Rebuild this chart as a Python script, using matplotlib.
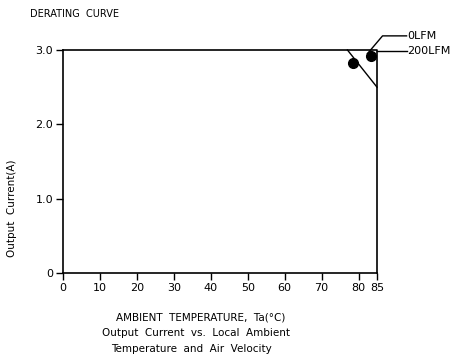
import matplotlib
matplotlib.use("Agg")
import matplotlib.pyplot as plt

# Data
curve_200lfm_x = [0, 85, 85]
curve_200lfm_y = [3.0, 3.0, 0.0]
curve_0lfm_x = [77, 85]
curve_0lfm_y = [3.0, 2.5]
dots_x = [78.6, 83.5]
dots_y = [2.83, 2.92]
x_ticks = [0, 10, 20, 30, 40, 50, 60, 70, 80, 85]
x_ticklabels = ["0", "10", "20", "30", "40", "50", "60", "70", "80", "85"]
y_ticks = [0, 1, 2, 3]
y_ticklabels = ["0", "1.0", "2.0", "3.0"]
labels = ["0LFM", "200LFM"]

W, H = 467, 360
fig = plt.figure(figsize=(W / 100, H / 100), dpi=100)
ax = fig.add_axes([63 / W, 1 - 273 / H, (377 - 63) / W, (273 - 50) / H])
ax.set_xlim(0, 85)
ax.set_ylim(0, 3)
for s in ["top", "right"]:
    ax.spines[s].set_visible(False)
for s in ["left", "bottom"]:
    ax.spines[s].set_linewidth(1.2)

ax.plot(curve_200lfm_x, curve_200lfm_y, color="black", lw=1.2, clip_on=False)
ax.plot(curve_0lfm_x, curve_0lfm_y, color="black", lw=1.0, clip_on=False)
ax.plot(dots_x, dots_y, "o", color="black", ms=7, clip_on=False)

# leader lines
ax.plot([82.4, 86.5, 93.0], [2.95, 3.19, 3.19], color="black", lw=1.0, clip_on=False)
ax.plot([84.9, 86.5, 93.0], [2.99, 2.99, 2.99], color="black", lw=1.0, clip_on=False)
ax.text(93.2, 3.19, labels[0], fontsize=8, va="center", ha="left")
ax.text(93.2, 2.99, labels[1], fontsize=8, va="center", ha="left")

ax.set_xticks(x_ticks)
ax.set_xticklabels(x_ticklabels, fontsize=8)
ax.set_yticks(y_ticks)
ax.set_yticklabels(y_ticklabels, fontsize=8)
ax.tick_params(direction="out", length=5, width=1, pad=2)

fig.text(30 / W, 1 - 14 / H, "DERATING  CURVE", fontsize=7, va="center", ha="left")
fig.text(12 / W, 1 - 208 / H, "Output  Current(A)", fontsize=7.5, rotation=90, va="center", ha="center")
fig.text(201 / W, 1 - 318 / H, "AMBIENT  TEMPERATURE,  Ta(°C)", fontsize=7.5, va="center", ha="center")
fig.text(196 / W, 1 - 333 / H, "Output  Current  vs.  Local  Ambient", fontsize=7.5, va="center", ha="center")
fig.text(191 / W, 1 - 349 / H, "Temperature  and  Air  Velocity", fontsize=7.5, va="center", ha="center")

fig.savefig("out.png", dpi=100)
